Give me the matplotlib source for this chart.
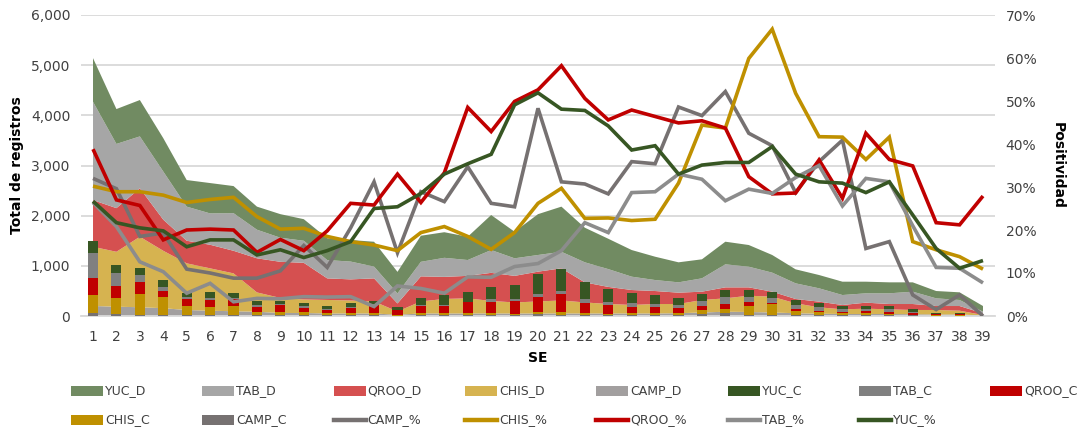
import matplotlib
matplotlib.use("Agg")
import matplotlib.pyplot as plt
from matplotlib.patches import Rectangle
from matplotlib.lines import Line2D
from matplotlib.ticker import FuncFormatter, MultipleLocator

plt.rcParams['font.family'] = ['DejaVu Sans']

weeks = list(range(1, 40))

# Stacked areas (deaths / registros D)
CAMP_D = [200, 185, 175, 155, 120, 105, 95, 85, 60, 60, 50, 50, 50, 25, 50, 50, 50, 50, 50, 50,
          50, 50, 50, 50, 50, 55, 70, 85, 80, 70, 55, 45, 40, 40, 40, 35, 30, 30, 10]
CHIS_D = [1180, 1095, 1405, 1145, 930, 845, 755, 385, 300, 270, 270, 260, 240, 65, 240, 290, 302, 250, 220, 240,
          260, 220, 190, 170, 189, 184, 249, 267, 325, 315, 198, 128, 93, 106, 93, 85, 90, 76, 10]
QROO_D = [930, 870, 965, 620, 450, 470, 450, 680, 720, 730, 430, 420, 460, 160, 500, 440, 448, 560, 530, 594,
          640, 400, 340, 298, 259, 226, 166, 219, 166, 100, 86, 113, 86, 120, 106, 119, 79, 93, 33]
TAB_D = [1960, 1280, 1035, 960, 680, 625, 750, 570, 480, 440, 365, 355, 235, 200, 290, 380, 316, 455, 350, 332,
         330, 400, 355, 266, 219, 206, 266, 459, 412, 379, 312, 266, 199, 186, 213, 246, 153, 120, 33]
YUC_D = [870, 695, 725, 665, 530, 605, 540, 460, 470, 430, 435, 430, 495, 430, 520, 510, 464, 698, 530, 814,
         900, 690, 605, 531, 465, 399, 379, 451, 432, 352, 279, 265, 266, 232, 219, 186, 146, 153, 113]

# Stacked bars (confirmed C)
CAMP_C = [50, 33, 20, 13, 13, 13, 13, 13, 15, 13, 13, 13, 13, 5, 26, 20, 20, 20, 15, 36,
          25, 23, 18, 20, 20, 26, 33, 53, 20, 20, 20, 20, 20, 20, 20, 10, 5, 5, 0]
CHIS_C = [370, 320, 418, 359, 186, 173, 193, 73, 70, 67, 40, 50, 40, 5, 40, 46, 33, 33, 25, 50,
          55, 35, 30, 33, 33, 40, 87, 87, 179, 212, 86, 53, 33, 33, 26, 10, 8, 5, 1]
QROO_C = [340, 246, 240, 126, 133, 126, 126, 100, 130, 86, 67, 100, 166, 100, 133, 140, 220, 233, 262, 299,
          360, 195, 170, 133, 133, 100, 79, 92, 87, 34, 34, 33, 33, 46, 40, 46, 20, 20, 2]
TAB_C = [505, 266, 133, 73, 53, 53, 20, 27, 25, 33, 13, 20, 20, 10, 20, 10, 15, 46, 30, 53,
         50, 90, 65, 67, 53, 53, 106, 140, 99, 86, 79, 67, 47, 34, 54, 20, 10, 10, 1]
YUC_C = [235, 146, 146, 146, 67, 107, 100, 79, 60, 67, 66, 80, 60, 53, 133, 193, 200, 239, 286, 399,
         445, 332, 250, 212, 180, 146, 133, 146, 133, 133, 100, 93, 66, 66, 59, 54, 10, 13, 2]

# Positivity lines (%)
CAMP_P = [32.0, 29.6, 18.5, 19.3, 10.9, 10.0, 8.8, 8.8, 10.5, 16.4, 11.3, 20.5, 31.2, 14.7, 28.9, 26.6, 34.7, 26.2, 25.4, 48.3,
          31.2, 30.7, 28.4, 35.9, 35.4, 48.6, 46.6, 52.2, 42.5, 39.6, 28.7, 35.9, 40.9, 15.7, 17.3, 4.9, 1.5, 4.9, 0.0]
CHIS_P = [30.2, 28.9, 28.9, 28.1, 26.4, 27.1, 27.6, 23.1, 20.2, 20.4, 18.5, 17.3, 16.5, 15.2, 19.4, 20.8, 18.5, 15.5, 19.4, 26.2,
          29.7, 22.7, 22.8, 22.2, 22.5, 30.9, 44.4, 43.7, 59.9, 66.7, 51.8, 41.7, 41.6, 36.4, 41.6, 17.3, 15.4, 13.8, 10.9]
QROO_P = [38.8, 27.0, 25.7, 17.7, 20.0, 20.2, 20.0, 14.8, 17.8, 15.2, 19.8, 26.2, 25.8, 33.0, 26.4, 33.3, 48.5, 42.9, 49.9, 52.6,
          58.2, 50.6, 45.6, 47.9, 46.4, 44.9, 45.4, 43.7, 32.4, 28.4, 28.6, 36.3, 27.4, 42.5, 36.4, 34.9, 21.7, 21.2, 27.9]
TAB_P = [26.4, 20.8, 12.6, 10.3, 5.3, 7.6, 3.3, 4.1, 4.0, 4.5, 4.4, 4.5, 2.2, 7.0, 6.4, 5.3, 9.1, 9.0, 11.5, 12.2,
         15.2, 21.7, 19.4, 28.7, 28.9, 33.0, 31.8, 26.8, 29.5, 28.5, 32.2, 35.0, 25.6, 32.0, 31.2, 21.0, 11.3, 11.1, 7.7]
YUC_P = [26.7, 21.7, 20.5, 19.8, 16.1, 17.7, 17.7, 14.2, 15.4, 13.6, 15.2, 17.3, 25.0, 25.4, 28.5, 33.0, 35.4, 37.6, 49.1, 51.9,
         48.1, 47.8, 44.2, 38.6, 39.6, 33.0, 35.1, 35.7, 35.7, 39.4, 33.0, 31.2, 30.9, 28.7, 31.2, 23.5, 15.7, 11.1, 12.9]

# colours
c_area = {'YUC_D': '#718B62', 'TAB_D': '#A6A6A6', 'QROO_D': '#D55050', 'CHIS_D': '#D6B350', 'CAMP_D': '#A29F9F'}
c_bar = {'YUC_C': '#375623', 'TAB_C': '#808080', 'QROO_C': '#C00000', 'CHIS_C': '#BF9000', 'CAMP_C': '#767171'}
c_line = {'CAMP_%': '#767171', 'CHIS_%': '#BF9000', 'QROO_%': '#C00000', 'TAB_%': '#8C8C8C', 'YUC_%': '#375623'}

W, H = 1088, 432
fig = plt.figure(figsize=(W / 100, H / 100), dpi=100)
ax = fig.add_axes([81.3 / W, 1 - 316 / H, 913.4 / W, 301 / H])

ax.stackplot(weeks, CAMP_D, CHIS_D, QROO_D, TAB_D, YUC_D,
             colors=[c_area['CAMP_D'], c_area['CHIS_D'], c_area['QROO_D'], c_area['TAB_D'], c_area['YUC_D']],
             linewidth=0, zorder=2)

bottom = [0] * len(weeks)
for name, vals in [('CAMP_C', CAMP_C), ('CHIS_C', CHIS_C), ('QROO_C', QROO_C), ('TAB_C', TAB_C), ('YUC_C', YUC_C)]:
    ax.bar(weeks, vals, width=0.43, bottom=bottom, color=c_bar[name], linewidth=0, zorder=3)
    bottom = [b + v for b, v in zip(bottom, vals)]

ax.set_xlim(0.5, 39.5)
ax.set_ylim(0, 6000)
ax.yaxis.set_major_locator(MultipleLocator(1000))
ax.yaxis.set_major_formatter(FuncFormatter(lambda v, p: f"{v:,.0f}"))
ax.set_xticks(weeks)
ax.set_xticklabels([str(w) for w in weeks])
ax.yaxis.grid(True, color='#D9D9D9', linewidth=1.3, zorder=0)
ax.set_axisbelow(True)
for s in ['top', 'left', 'right']:
    ax.spines[s].set_visible(False)
ax.spines['bottom'].set_color('#D9D9D9')
ax.spines['bottom'].set_linewidth(1.3)
ax.tick_params(axis='both', length=0, colors='#404040', labelsize=10)
ax.tick_params(axis='x', pad=10)
ax.tick_params(axis='y', pad=8)
ax.set_xlabel('SE', fontweight='bold', fontsize=10, labelpad=5)
ax.set_ylabel('Total de registros', fontweight='bold', fontsize=10, labelpad=5)

ax2 = ax.twinx()
for name, vals in [('CAMP_%', CAMP_P), ('CHIS_%', CHIS_P), ('QROO_%', QROO_P), ('TAB_%', TAB_P), ('YUC_%', YUC_P)]:
    ax2.plot(weeks, [v / 100 for v in vals], color=c_line[name], linewidth=2.6, solid_joinstyle='miter',
             solid_capstyle='butt')
ax2.set_ylim(0, 0.7)
ax2.yaxis.set_major_locator(MultipleLocator(0.1))
ax2.yaxis.set_major_formatter(FuncFormatter(lambda v, p: f"{v * 100:.0f}%"))
for s in ax2.spines.values():
    s.set_visible(False)
ax2.tick_params(axis='y', length=0, colors='#404040', labelsize=10, pad=8)
ax2.set_ylabel('Positividad', fontweight='bold', fontsize=10, rotation=-90, labelpad=20)

# legend (manual, 8 columns x 2 rows)
row1 = [('YUC_D', 'rect', c_area['YUC_D']), ('TAB_D', 'rect', c_area['TAB_D']), ('QROO_D', 'rect', c_area['QROO_D']),
        ('CHIS_D', 'rect', c_area['CHIS_D']), ('CAMP_D', 'rect', c_area['CAMP_D']), ('YUC_C', 'rect', c_bar['YUC_C']),
        ('TAB_C', 'rect', c_bar['TAB_C']), ('QROO_C', 'rect', c_bar['QROO_C'])]
row2 = [('CHIS_C', 'rect', c_bar['CHIS_C']), ('CAMP_C', 'rect', c_bar['CAMP_C']), ('CAMP_%', 'line', c_line['CAMP_%']),
        ('CHIS_%', 'line', c_line['CHIS_%']), ('QROO_%', 'line', c_line['QROO_%']), ('TAB_%', 'line', c_line['TAB_%']),
        ('YUC_%', 'line', c_line['YUC_%'])]
x0, dx, sw = 71, 131.3, 32
for ry, row in [(391, row1), (420, row2)]:
    for i, (lab, kind, col) in enumerate(row):
        xs = x0 + i * dx
        yf = 1 - ry / H
        if kind == 'rect':
            fig.patches.append(Rectangle((xs / W, yf - 5 / H), sw / W, 10 / H, transform=fig.transFigure,
                                         facecolor=col, edgecolor='none'))
        else:
            fig.lines.append(Line2D([xs / W, (xs + sw) / W], [yf, yf], transform=fig.transFigure,
                                    color=col, linewidth=3.2))
        fig.text((xs + sw + 2) / W, yf, lab, ha='left', va='center', fontsize=9, color='#404040')

fig.savefig('out.png', dpi=100)
